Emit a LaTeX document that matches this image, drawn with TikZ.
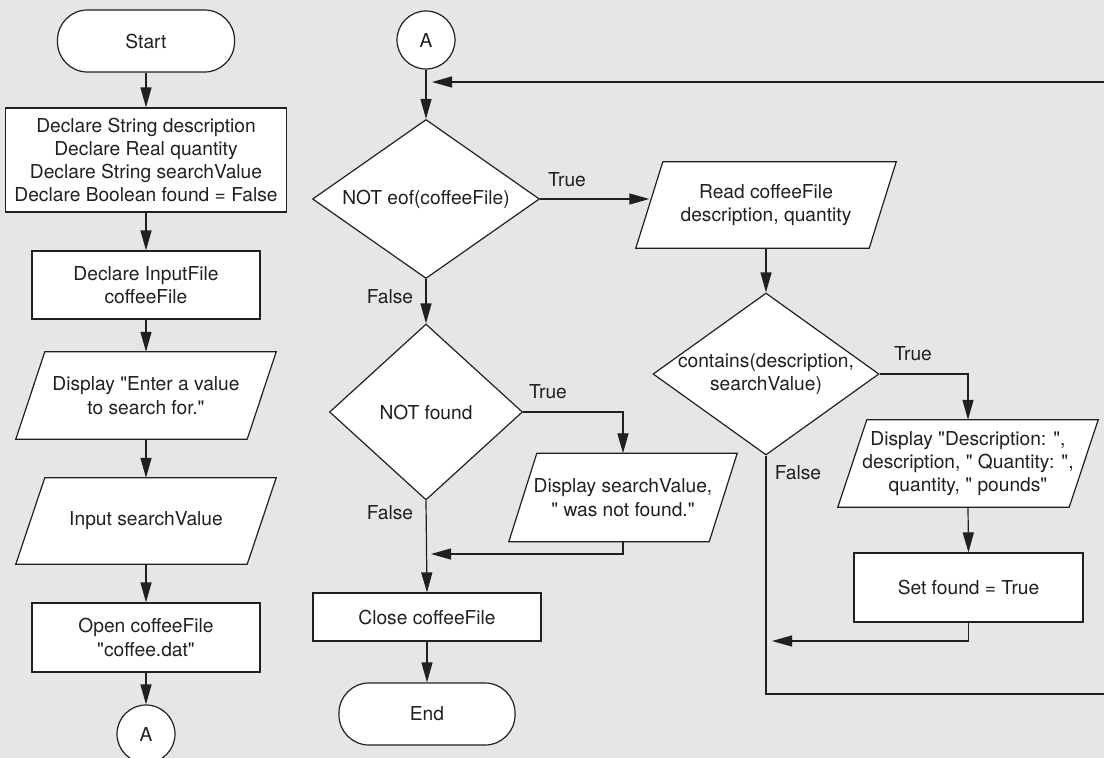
\documentclass[tikz,border=0pt]{standalone}
\usepackage{fontspec}
\setmainfont{TeX Gyre Heros}
\newfontfamily\heros{TeX Gyre Heros}
\usetikzlibrary{shapes.geometric,arrows.meta,calc}
\pgfdeclarelayer{bg}
\pgfsetlayers{bg,main}
\definecolor{bggray}{HTML}{E6E6E6}
\definecolor{ink}{HTML}{231F20}
\newcommand\drawio[2]{%
  \begin{pgfonlayer}{bg}
    \draw[shapeline,fill=white] ($(#1.south west)+(-#2,0)$) -- ($(#1.south east)+(-#2,0)$) -- ($(#1.north east)+(#2,0)$) -- ($(#1.north west)+(#2,0)$) -- cycle;
  \end{pgfonlayer}}
\tikzset{
  every node/.style={font=\heros\fontsize{19.2}{23.3}\selectfont, text=ink},
  shapeline/.style={draw=ink, line width=1.2pt},
  proc/.style={rectangle, shapeline, fill=white, inner sep=0pt, align=center},
  term/.style={rectangle, rounded corners=30pt, shapeline, fill=white, inner sep=0pt, minimum width=177, minimum height=62},
  conn/.style={circle, shapeline, fill=white, inner sep=0pt, minimum size=58},
  io/.style={rectangle, inner sep=0pt, align=center},
  decision/.style={diamond, shapeline, fill=white, inner sep=0pt},
  flow/.style={draw=ink, line width=1.2pt, -{Triangle[length=20pt,width=11pt]}},
  lbl/.style={inner sep=0pt},
}
\begin{document}
\begin{tikzpicture}[x=1pt,y=-1pt]
\useasboundingbox (0,0) rectangle (1104,758);
\begin{pgfonlayer}{bg}\fill[bggray] (0,0) rectangle (1104,758);\end{pgfonlayer}
\clip (0,0) rectangle (1104,758);

% left column
\node[term] (start) at (146,41) {Start};
\node[proc, minimum width=281, minimum height=104] (decl) at (146,160) {Declare String description\\Declare Real quantity\\Declare String searchValue\\Declare Boolean found = False};
\node[proc, minimum width=228, minimum height=68] (infile) at (146,285) {Declare InputFile\\coffeeFile};
\node[io, minimum width=231, minimum height=87] (disp1) at (146,395.5) {Display "Enter a value\\to search for."};
\drawio{disp1}{14.5}
\node[io, minimum width=231, minimum height=86] (input) at (146,521) {Input searchValue};
\drawio{input}{14.5}
\node[proc, minimum width=228, minimum height=69] (open) at (146,637.5) {Open coffeeFile\\"coffee.dat"};
\node[conn] (a1) at (146,734) {A};

% middle column
\node[conn] (a2) at (426,40) {A};
\node[decision, minimum width=227, minimum height=159, label={[lbl]center:NOT eof(coffeeFile)}] (d1) at (426,199) {};
\node[decision, minimum width=193, minimum height=176, label={[lbl]center:NOT found}] (d2) at (426,412) {};
\node[io, minimum width=200, minimum height=88] (disp2) at (623,497.5) {Display searchValue,\\" was not found."};
\drawio{disp2}{14}
\node[proc, minimum width=228, minimum height=48] (close) at (427,617) {Close coffeeFile};
\node[term, minimum width=176] (end) at (427,714) {End};

% right column
\node[io, minimum width=233, minimum height=86] (read) at (766,205) {Read coffeeFile\\description, quantity};
\drawio{read}{13.5}
\node[decision, minimum width=226, minimum height=162, label={[lbl,align=center]center:contains(description,\\searchValue)}] (d3) at (766,374) {};
\node[io, minimum width=231, minimum height=87] (disp3) at (968,463.5) {Display "Description: ",\\description, " Quantity: ",\\quantity, " pounds"};
\drawio{disp3}{14.5}
\node[proc, minimum width=229, minimum height=69] (setf) at (968.5,587.5) {Set found = True};

% branch labels
\node[lbl] (t1) at (567,180) {True};
\node[lbl] (f1) at (390,297) {False};
\node[lbl] (t2) at (548,392) {True};
\node[lbl] (f2) at (390,513) {False};
\node[lbl] (t3) at (913,354) {True};
\node[lbl] (f3) at (798,473) {False};

% free ends
\coordinate (j1) at (431,554);
\coordinate (j2) at (772,641);
\coordinate (rb) at (1110,694);
\coordinate (j3) at (432,82);

% connectors
\draw[flow] (start.south) -- (decl.north);
\draw[flow] (decl.south) -- (infile.north);
\draw[flow] (infile.south) -- (disp1.north);
\draw[flow] (disp1.south) -- (input.north);
\draw[flow] (input.south) -- (open.north);
\draw[flow] (open.south) -- (a1.north);
\draw[flow] (a2.south) -- (d1.north);
\draw[flow] (d1.east) -- (d1.east -| read.west);
\draw[flow] (d1.south) -- (d2.north);
\draw[flow] (d2.east) -| (disp2.north);
\draw[flow] (disp2.south) |- (j1);
\draw[flow] (d2.south) -- (close.north);
\draw[flow] (close.south) -- (end.north);
\draw[flow] (read.south) -- (d3.north);
\draw[flow] (d3.east) -| (disp3.north);
\draw[flow] (disp3.south) -- (setf.north);
\draw[flow] (setf.south) |- (j2);
\draw[flow] (d3.south) |- (rb) |- (j3);
\end{tikzpicture}
\end{document}
